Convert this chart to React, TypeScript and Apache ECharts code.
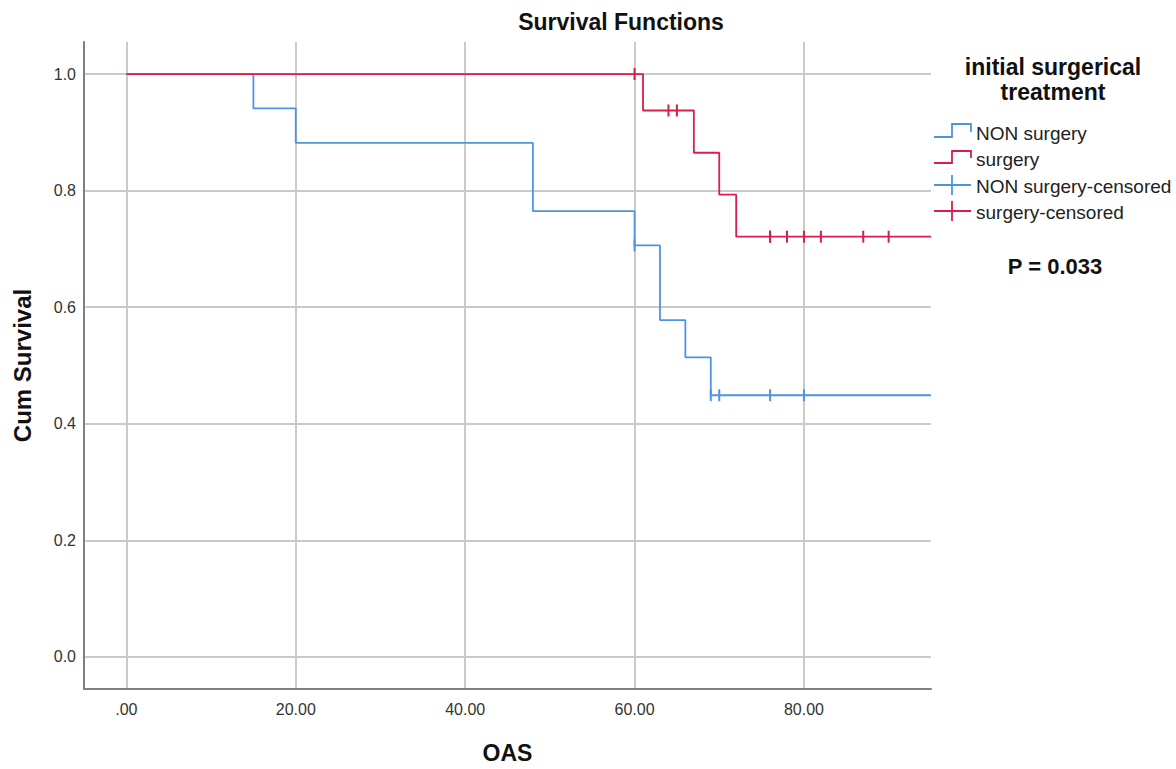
import React, { useEffect, useRef } from 'react';
import * as echarts from 'echarts';

// Kaplan–Meier step data (time, cumulative survival)
const nonSurgeryTimes = [0, 15, 20, 48, 60, 63, 66, 69, 95];
const nonSurgerySurvival = [1.0, 0.941, 0.882, 0.765, 0.706, 0.578, 0.514, 0.449, 0.449];
const surgeryTimes = [0, 61, 67, 70, 72, 95];
const surgerySurvival = [1.0, 0.9375, 0.865, 0.793, 0.721, 0.721];

// Censored observations
const nonSurgeryCensorTimes = [60, 69, 70, 76, 80];
const nonSurgeryCensorSurvival = [0.706, 0.449, 0.449, 0.449, 0.449];
const surgeryCensorTimes = [60, 64, 65, 76, 76, 78, 80, 82, 87, 90];
const surgeryCensorSurvival = [1.0, 0.9375, 0.9375, 0.721, 0.721, 0.721, 0.721, 0.721, 0.721, 0.721];

// Tick labels
const xTickValues = [0, 20, 40, 60, 80];
const xTickLabels = ['.00', '20.00', '40.00', '60.00', '80.00'];
const yTickValues = [0, 0.2, 0.4, 0.6, 0.8, 1.0];
const yTickLabels = ['0.0', '0.2', '0.4', '0.6', '0.8', '1.0'];

const seriesNames = ['NON surgery', 'surgery', 'NON surgery-censored', 'surgery-censored'];
const BLUE = '#4f93e3';
const RED = '#d81e4b';
const FONT = '"Liberation Sans", Arial, Helvetica, sans-serif';

function labelFor(values: number[], labels: string[], v: number): string {
  for (let i = 0; i < values.length; i++) {
    if (Math.abs(values[i] - v) < 1e-6) return labels[i];
  }
  return '';
}

export default function App() {
  const ref = useRef<HTMLDivElement>(null);

  useEffect(() => {
    if (!ref.current) return;
    const chart = echarts.init(ref.current, null, { renderer: 'svg' });

    const nonLine = nonSurgeryTimes.map((t, i) => [t, nonSurgerySurvival[i]]);
    const surgLine = surgeryTimes.map((t, i) => [t, surgerySurvival[i]]);
    const nonCens = nonSurgeryCensorTimes.map((t, i) => [t, nonSurgeryCensorSurvival[i]]);
    const surgCens = surgeryCensorTimes.map((t, i) => [t, surgeryCensorSurvival[i]]);

    const legendTextStyle = { fill: '#222', font: `19px ${FONT}`, textVerticalAlign: 'middle' };

    chart.setOption({
      animation: false,
      backgroundColor: '#ffffff',
      title: {
        text: 'Survival Functions',
        left: 616,
        top: 5,
        textAlign: 'center',
        textStyle: { fontFamily: FONT, fontSize: 23, fontWeight: 'bold', color: '#111' },
      },
      grid: { left: 84, right: 245, top: 42, bottom: 80, containLabel: false },
      xAxis: {
        type: 'value',
        min: -5,
        max: 95,
        minInterval: 20,
        maxInterval: 20,
        name: 'OAS',
        nameLocation: 'middle',
        nameGap: 52,
        nameTextStyle: { fontFamily: FONT, fontSize: 23, fontWeight: 'bold', color: '#111' },
        axisLine: { show: true, onZero: false, lineStyle: { color: '#808080', width: 2 } },
        axisTick: { show: false },
        axisLabel: {
          margin: 12,
          fontFamily: FONT,
          fontSize: 16,
          color: '#333',
          showMinLabel: false,
          showMaxLabel: false,
          formatter: (v: number) => labelFor(xTickValues, xTickLabels, v),
        },
        splitLine: {
          show: true,
          showMinLine: false,
          showMaxLine: false,
          lineStyle: { color: '#cacaca', width: 2 },
        },
      },
      yAxis: {
        type: 'value',
        min: -0.055,
        max: 1.055,
        minInterval: 0.2,
        maxInterval: 0.2,
        name: 'Cum Survival',
        nameLocation: 'middle',
        nameGap: 50,
        nameTextStyle: { fontFamily: FONT, fontSize: 24, fontWeight: 'bold', color: '#111' },
        axisLine: { show: true, onZero: false, lineStyle: { color: '#808080', width: 2 } },
        axisTick: { show: false },
        axisLabel: {
          margin: 8,
          fontFamily: FONT,
          fontSize: 16,
          color: '#333',
          showMinLabel: false,
          showMaxLabel: false,
          formatter: (v: number) => labelFor(yTickValues, yTickLabels, v),
        },
        splitLine: {
          show: true,
          showMinLine: false,
          showMaxLine: false,
          lineStyle: { color: '#cacaca', width: 2 },
        },
      },
      series: [
        {
          name: seriesNames[0],
          type: 'line',
          step: 'end',
          data: nonLine,
          showSymbol: false,
          symbol: 'none',
          lineStyle: { color: BLUE, width: 1.8 },
          itemStyle: { color: BLUE },
          z: 3,
        },
        {
          name: seriesNames[1],
          type: 'line',
          step: 'end',
          data: surgLine,
          showSymbol: false,
          symbol: 'none',
          lineStyle: { color: RED, width: 1.8 },
          itemStyle: { color: RED },
          z: 4,
        },
        {
          name: seriesNames[2],
          type: 'scatter',
          data: nonCens,
          symbol: 'rect',
          symbolSize: [2, 12],
          itemStyle: { color: BLUE, opacity: 1 },
          z: 5,
        },
        {
          name: seriesNames[3],
          type: 'scatter',
          data: surgCens,
          symbol: 'rect',
          symbolSize: [2, 12],
          itemStyle: { color: RED, opacity: 1 },
          z: 6,
        },
      ],
      graphic: [
        { type: 'text', x: 1053, y: 67, style: { text: 'initial surgerical', fill: '#111', font: `bold 23px ${FONT}`, textAlign: 'center', textVerticalAlign: 'middle' } },
        { type: 'text', x: 1053, y: 92, style: { text: 'treatment', fill: '#111', font: `bold 23px ${FONT}`, textAlign: 'center', textVerticalAlign: 'middle' } },
        { type: 'polyline', shape: { points: [[934, 137], [952, 137], [952, 124], [971, 124], [971, 132]] }, style: { stroke: BLUE, lineWidth: 1.8, fill: 'none' } },
        { type: 'text', x: 976, y: 133, style: { text: seriesNames[0], ...legendTextStyle } },
        { type: 'polyline', shape: { points: [[934, 163], [952, 163], [952, 151], [971, 151], [971, 158]] }, style: { stroke: RED, lineWidth: 1.8, fill: 'none' } },
        { type: 'text', x: 976, y: 159.5, style: { text: seriesNames[1], ...legendTextStyle } },
        { type: 'line', shape: { x1: 934, y1: 185, x2: 971, y2: 185 }, style: { stroke: BLUE, lineWidth: 1.8 } },
        { type: 'line', shape: { x1: 952, y1: 175, x2: 952, y2: 195 }, style: { stroke: BLUE, lineWidth: 1.8 } },
        { type: 'text', x: 976, y: 186, style: { text: seriesNames[2], ...legendTextStyle } },
        { type: 'line', shape: { x1: 934, y1: 211, x2: 971, y2: 211 }, style: { stroke: RED, lineWidth: 1.8 } },
        { type: 'line', shape: { x1: 952, y1: 201, x2: 952, y2: 221 }, style: { stroke: RED, lineWidth: 1.8 } },
        { type: 'text', x: 976, y: 212.5, style: { text: seriesNames[3], ...legendTextStyle } },
        { type: 'text', x: 1055, y: 266, style: { text: 'P = 0.033', fill: '#111', font: `bold 22px ${FONT}`, textAlign: 'center', textVerticalAlign: 'middle' } },
      ],
    });

    return () => {
      chart.dispose();
    };
  }, []);

  return (
    <div
      ref={ref}
      style={{ position: 'fixed', left: 0, top: 0, width: 1176, height: 769, background: '#fff' }}
    />
  );
}
